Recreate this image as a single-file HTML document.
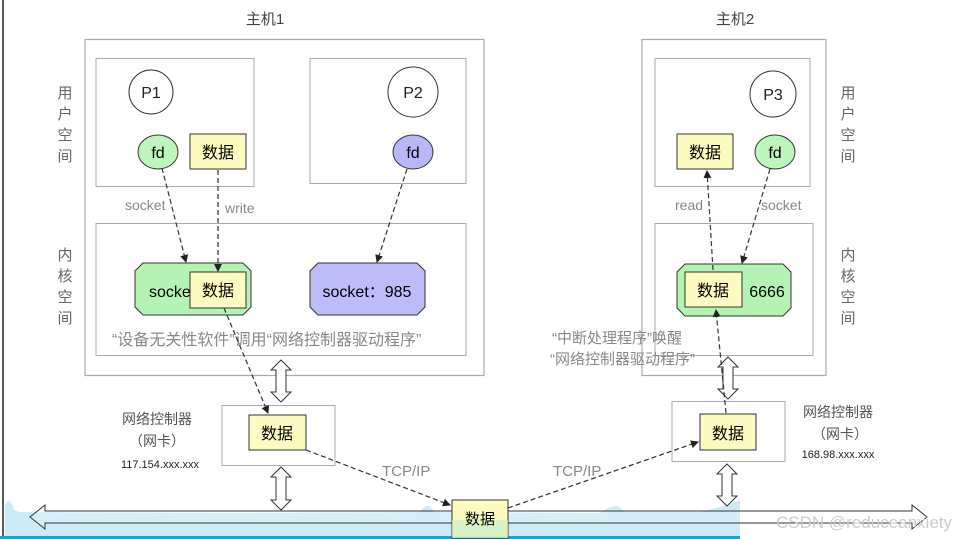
<!DOCTYPE html>
<html><head><meta charset="utf-8"><style>
html,body{margin:0;padding:0;background:#fff}
svg{display:block}
text{font-family:"Liberation Sans","Noto Sans CJK SC",sans-serif}
</style></head><body>
<svg width="956" height="539" viewBox="0 0 956 539" xmlns="http://www.w3.org/2000/svg">
<defs>
<marker id="ah" markerWidth="8" markerHeight="8" refX="7" refY="4" orient="auto" markerUnits="userSpaceOnUse"><path d="M0,0 L8,4 L0,8 z" fill="#222"/></marker>
</defs>
<rect x="0" y="0" width="956" height="539" fill="#fff"/>
<line x1="3" y1="0" x2="3" y2="539" stroke="#222" stroke-width="1.5"/>
<!-- bottom blue wave -->
<path d="M5,539 L5,505 Q10,495 14,510 L20,512 L230,513 L420,512 Q428,500 434,512 L600,513 Q618,500 624,512 L700,512 Q730,505 740,500 L740,539 Z" fill="#cdeaf7"/>
<rect x="0" y="536" width="740" height="3" fill="#1ba0e0"/>
<!-- host labels -->
<text x="265" y="24" font-size="15" fill="#444" text-anchor="middle">主机1</text>
<text x="735" y="24" font-size="15" fill="#444" text-anchor="middle">主机2</text>
<!-- host1 -->
<rect x="85" y="39.5" width="399" height="336" fill="none" stroke="#aaa" stroke-width="1.2"/>
<rect x="96" y="58.5" width="158" height="128" fill="none" stroke="#aaa"/>
<rect x="310" y="58.5" width="156" height="125" fill="none" stroke="#aaa"/>
<rect x="96" y="223.5" width="370" height="132" fill="none" stroke="#aaa"/>
<!-- host2 -->
<rect x="642" y="39.5" width="184" height="336" fill="none" stroke="#aaa" stroke-width="1.2"/>
<rect x="655" y="58.5" width="155" height="128" fill="none" stroke="#aaa"/>
<rect x="655" y="223.5" width="158" height="132" fill="none" stroke="#aaa"/>
<!-- side labels -->
<g font-size="15" fill="#666" text-anchor="middle">
<text x="65" y="98">用</text><text x="65" y="119">户</text><text x="65" y="140">空</text><text x="65" y="161">间</text>
<text x="65" y="260">内</text><text x="65" y="281">核</text><text x="65" y="302">空</text><text x="65" y="323">间</text>
<text x="848" y="98">用</text><text x="848" y="119">户</text><text x="848" y="140">空</text><text x="848" y="161">间</text>
<text x="848" y="260">内</text><text x="848" y="281">核</text><text x="848" y="302">空</text><text x="848" y="323">间</text>
</g>
<!-- processes -->
<circle cx="151" cy="92" r="22" fill="#fff" stroke="#333"/>
<text x="151" y="98" font-size="16" text-anchor="middle" fill="#222">P1</text>
<circle cx="413" cy="92" r="25" fill="#fff" stroke="#333"/>
<text x="413" y="98" font-size="16" text-anchor="middle" fill="#222">P2</text>
<circle cx="773" cy="94" r="23" fill="#fff" stroke="#333"/>
<text x="773" y="100" font-size="16" text-anchor="middle" fill="#222">P3</text>
<ellipse cx="158" cy="152" rx="20" ry="17" fill="#bdf5bd" stroke="#333"/>
<text x="158" y="158" font-size="16" text-anchor="middle">fd</text>
<ellipse cx="413" cy="152" rx="20" ry="17" fill="#b8b8f8" stroke="#333"/>
<text x="413" y="158" font-size="16" text-anchor="middle">fd</text>
<ellipse cx="775" cy="152" rx="20" ry="17" fill="#bdf5bd" stroke="#333"/>
<text x="775" y="158" font-size="16" text-anchor="middle">fd</text>
<rect x="190" y="134" width="56" height="35" fill="#fdfbc0" stroke="#333"/>
<text x="218" y="158" font-size="16" text-anchor="middle">数据</text>
<rect x="677" y="134" width="56" height="35" fill="#fdfbc0" stroke="#333"/>
<text x="705" y="158" font-size="16" text-anchor="middle">数据</text>
<!-- kernel sockets -->
<path d="M143,263 L243,263 L251,271 L251,307 L243,315 L143,315 L135,307 L135,271 Z" fill="#b5f3b5" stroke="#333"/>
<text x="149" y="297" font-size="16">socke</text>
<rect x="190" y="272" width="56" height="36" fill="#fdfbc0" stroke="#333"/>
<text x="218" y="296" font-size="16" text-anchor="middle">数据</text>
<path d="M318,263 L417,263 L425,271 L425,307 L417,315 L318,315 L310,307 L310,271 Z" fill="#bcbcf9" stroke="#333"/>
<text x="367" y="297" font-size="16" text-anchor="middle">socket：985</text>
<path d="M685,264 L783,264 L791,272 L791,308 L783,316 L685,316 L677,308 L677,272 Z" fill="#b5f3b5" stroke="#333"/>
<rect x="685" y="272" width="57" height="35" fill="#fdfbc0" stroke="#333"/>
<text x="713" y="296" font-size="16" text-anchor="middle">数据</text>
<text x="767" y="297" font-size="16" text-anchor="middle">6666</text>
<!-- grey labels -->
<g fill="#888" font-size="14">
<text x="125" y="210">socket</text>
<text x="225" y="213">write</text>
<text x="675" y="210">read</text>
<text x="761" y="210">socket</text>
<text x="112" y="345" font-size="16">“设备无关性软件”调用“网络控制器驱动程序”</text>
<text x="552" y="343" font-size="15">“中断处理程序”唤醒</text>
<text x="550" y="364" font-size="15">“网络控制器驱动程序”</text>
<text x="382" y="476" font-size="15">TCP/IP</text>
<text x="553" y="476" font-size="15">TCP/IP</text>
</g>
<!-- network controllers -->
<rect x="222" y="405.5" width="113" height="60" fill="#fff" stroke="#aaa"/>
<rect x="249" y="415" width="57" height="35" fill="#fdfbc0" stroke="#333"/>
<text x="277" y="439" font-size="16" text-anchor="middle">数据</text>
<rect x="672" y="401.5" width="113" height="60" fill="#fff" stroke="#aaa"/>
<rect x="700" y="414" width="56" height="36" fill="#fdfbc0" stroke="#333"/>
<text x="728" y="439" font-size="16" text-anchor="middle">数据</text>
<g font-size="14" fill="#555" text-anchor="middle">
<text x="157" y="424">网络控制器</text><text x="157" y="446">（网卡）</text>
<text x="838" y="417">网络控制器</text><text x="840" y="439">（网卡）</text>
</g>
<text x="160" y="468" font-size="11" fill="#222" text-anchor="middle">117.154.xxx.xxx</text>
<text x="838" y="458" font-size="11" fill="#222" text-anchor="middle">168.98.xxx.xxx</text>
<!-- bus -->
<path d="M30,517 L45,505 L45,511 L912,511 L912,505 L927,517 L912,529 L912,523 L45,523 L45,529 Z" fill="#fff" fill-opacity="0.2" stroke="#333"/>
<rect x="452" y="500" width="56" height="38" fill="#fdfbc0" stroke="#333"/>
<rect x="452" y="520" width="56" height="18" fill="#c8eec8" opacity="0.7"/>
<text x="480" y="524" font-size="15" text-anchor="middle">数据</text>
<!-- vertical double arrows -->
<g fill="#fff" stroke="#333">
<path d="M281,360 L291,370 L286,370 L286,392 L291,392 L281,402 L271,392 L276,392 L276,370 L271,370 Z"/>
<path d="M281,467 L291,477 L286,477 L286,500 L291,500 L281,510 L271,500 L276,500 L276,477 L271,477 Z"/>
<path d="M728,357 L738,367 L733,367 L733,389 L738,389 L728,399 L718,389 L723,389 L723,367 L718,367 Z"/>
<path d="M727,464 L737,474 L732,474 L732,496 L737,496 L727,506 L717,496 L722,496 L722,474 L717,474 Z"/>
</g>
<!-- dashed arrows -->
<g stroke="#333" stroke-width="1.2" stroke-dasharray="5,3" fill="none" marker-end="url(#ah)">
<line x1="162" y1="168" x2="186" y2="262"/>
<line x1="218" y1="170" x2="218" y2="271"/>
<line x1="407" y1="169" x2="377" y2="262"/>
<line x1="224" y1="308" x2="268" y2="413"/>
<line x1="306" y1="450" x2="450" y2="505"/>
<line x1="508" y1="508" x2="698" y2="442"/>
<line x1="726" y1="413" x2="716" y2="310"/>
<line x1="713" y1="270" x2="707" y2="171"/>
<line x1="770" y1="169" x2="742" y2="263"/>
</g>
<text x="952" y="528" font-size="17" fill="#ccc" text-anchor="end">CSDN @reduceanxiety</text>
</svg>
</body></html>
